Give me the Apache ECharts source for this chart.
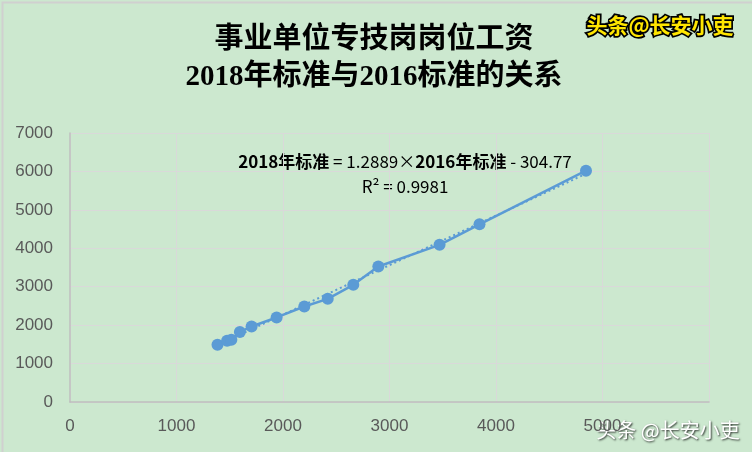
<!DOCTYPE html>
<html><head><meta charset="utf-8">
<script src="https://cdn.jsdelivr.net/npm/echarts@6/dist/echarts.min.js"></script>
<style>html,body{margin:0;padding:0;background:#cce8cf}#c{width:752px;height:452px}</style>
</head><body><div id="c"></div>
<script>
// 2016 standard (x) and 2018 standard (y)
const std2016 = [1385, 1475, 1515, 1595, 1705, 1940, 2200, 2420, 2660, 2895, 3470, 3845, 4845];
const std2018 = [1490, 1595, 1620, 1820, 1965, 2200, 2485, 2685, 3050, 3525, 4090, 4625, 6020];
const xTicks = [0, 1000, 2000, 3000, 4000, 5000];
const yTicks = [0, 1000, 2000, 3000, 4000, 5000, 6000, 7000];
const SLOPE = 1.2889, INTERCEPT = -304.77, R2 = 0.9981;

const pts = std2016.map((x, i) => [x, std2018[i]]);
const xmin = Math.min(...std2016), xmax = Math.max(...std2016);
const trend = [[xmin, SLOPE * xmin + INTERCEPT], [xmax, SLOPE * xmax + INTERCEPT]];

const chart = echarts.init(document.getElementById('c'));
const blue = '#5b9bd5';
const lblFont = "'Liberation Sans', Arial, sans-serif";
chart.setOption({
  backgroundColor: '#cce8cf',
  animation: false,
  grid: { left: 70, right: 43, top: 133, bottom: 50 },
  xAxis: {
    type: 'value', min: 0, max: 6000, interval: 1000,
    axisLine: { show: true, lineStyle: { color: '#bfbfbf', width: 1.5 } },
    axisTick: { show: false },
    splitLine: { show: true, lineStyle: { color: '#d9d9d9', width: 1 } },
    axisLabel: { color: '#595959', fontSize: 17, fontFamily: lblFont, margin: 16,
      formatter: v => xTicks.includes(v) ? String(v) : '' }
  },
  yAxis: {
    type: 'value', min: 0, max: 7000, interval: 1000,
    axisLine: { show: true, lineStyle: { color: '#bfbfbf', width: 1.5 } },
    axisTick: { show: false },
    splitLine: { show: true, lineStyle: { color: '#d9d9d9', width: 1 } },
    axisLabel: { color: '#595959', fontSize: 17, fontFamily: lblFont, margin: 17,
      formatter: v => yTicks.includes(v) ? String(v) : '' }
  },
  series: [
    { type: 'line', data: trend, symbol: 'none', z: 1,
      lineStyle: { color: blue, width: 2, type: [2, 3] } },
    { type: 'line', data: pts, symbol: 'circle', symbolSize: 12, z: 2,
      lineStyle: { color: blue, width: 2.5 }, itemStyle: { color: blue } }
  ],
  graphic: [
    { type: 'rect', left: 0, top: 0, shape: { width: 751, height: 451 }, silent: true,
      style: { fill: 'none', stroke: '#d0d0d0', lineWidth: 2 } },
    { type: 'text', x: 374, y: 37, silent: true,
      style: { text: '事业单位专技岗岗位工资', fill: '#000', font: "bold 29px 'Noto Sans CJK SC'",
        align: 'center', verticalAlign: 'middle' } },
    { type: 'text', x: 374, y: 78, silent: true,
      style: { text: '2018年标准与2016标准的关系', fill: '#000', font: "bold 29px 'Liberation Serif', 'Noto Sans CJK SC'",
        align: 'center', verticalAlign: 'middle' } },
    { type: 'text', x: 660, y: 25, silent: true,
      style: { text: '头条@长安小吏', fill: '#ffe600', stroke: '#000', lineWidth: 3.5,
        font: "bold 21px 'Noto Sans CJK SC'", align: 'center', verticalAlign: 'middle' } },
    { type: 'text', x: 405, y: 162, silent: true,
      style: { rich: {
          b: { font: "bold 17px 'Noto Sans CJK SC'", fill: '#000' },
          n: { font: "17px 'Noto Sans CJK SC'", fill: '#000' } },
        text: '{b|2018年标准}{n| = ' + SLOPE.toFixed(4) + '×}{b|2016年标准}{n| - ' + Math.abs(INTERCEPT).toFixed(2) + '}',
        align: 'center', verticalAlign: 'middle' } },
    { type: 'text', x: 405, y: 187, silent: true,
      style: { text: 'R² = ' + R2.toFixed(4), fill: '#000', font: "17px 'Noto Sans CJK SC'",
        align: 'center', verticalAlign: 'middle' } },
    { type: 'text', x: 668, y: 430, silent: true,
      style: { text: '头条 @长安小吏', fill: '#ffffff', font: "20px 'Noto Sans CJK SC'",
        align: 'center', verticalAlign: 'middle',
        textShadowColor: 'rgba(0,0,0,0.8)', textShadowBlur: 2, textShadowOffsetX: 1, textShadowOffsetY: 1 } }
  ]
});
</script></body></html>
